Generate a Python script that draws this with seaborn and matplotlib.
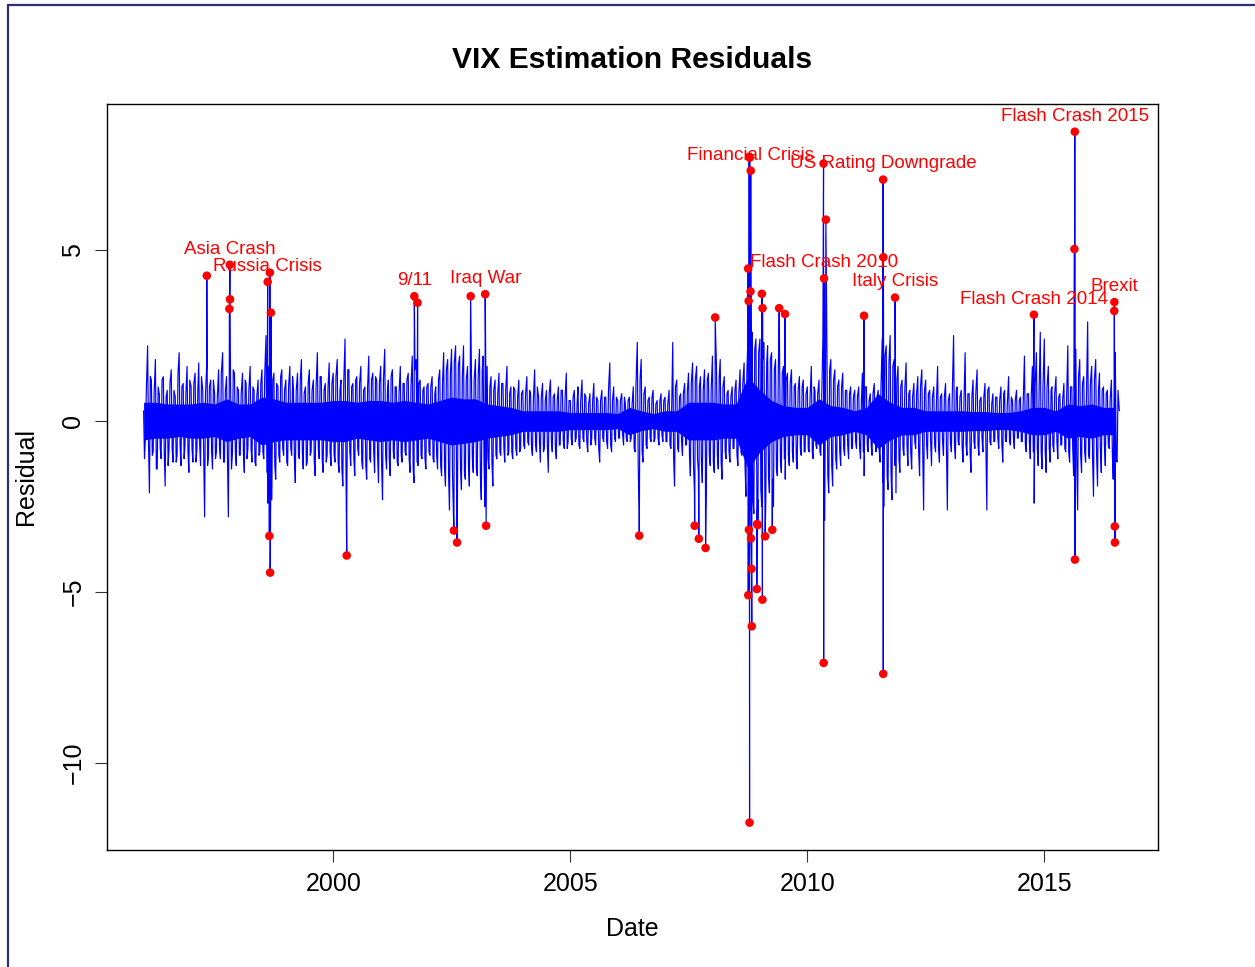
import numpy as np
import pandas as pd
import matplotlib
matplotlib.use("Agg")
import matplotlib.pyplot as plt
from matplotlib.lines import Line2D
import seaborn as sns

# ---------------- data ----------------
# residual spikes read on the 1st and 15th of each month, one row per year
noise_1996 = [0.3, -0.5, 2.2, -2.1, 1.2, -0.9, 1.8, -1.4, 0.8, -1.1, 1.3, -1.9, 0.9, -0.8, 1.5, -1.2, 0.7, -1.0, 2.0, -1.3, 1.1, -0.7, 1.6, -1.5]
noise_1997 = [1.0, -1.2, 1.4, -0.8, 1.7, -1.3, 0.9, -2.8, 1.6, -1.0, 1.2, -1.4, 0.8, -0.9, 1.5, -1.1, 2.0, -1.2, 1.3, -2.8, 1.1, -1.0, 1.4, -1.3]
noise_1998 = [0.9, -1.0, 1.4, -1.5, 1.1, -0.8, 1.6, -1.2, 0.9, -1.3, 1.2, -0.9, 1.5, -1.1, 2.5, -2.4, 2.0, -2.3, 1.4, -1.7, 1.0, -1.2, 1.5, -1.0]
noise_1999 = [1.2, -1.3, 1.6, -1.0, 0.9, -1.8, 1.4, -1.1, 1.8, -1.4, 1.0, -1.2, 1.5, -0.9, 1.2, -1.6, 2.0, -1.1, 1.3, -1.5, 1.1, -1.0, 1.7, -1.3]
noise_2000 = [1.4, -1.2, 1.8, -1.5, 1.2, -1.9, 2.4, -2.2, 1.5, -1.3, 1.1, -1.6, 1.3, -1.0, 1.6, -1.4, 1.0, -1.7, 1.9, -1.2, 1.4, -1.5, 1.2, -1.8]
noise_2001 = [1.6, -2.3, 2.1, -1.4, 1.2, -1.6, 1.5, -1.1, 1.0, -1.3, 1.6, -1.2, 1.1, -1.0, 1.4, -1.5, 1.9, -1.8, 1.8, -1.3, 1.2, -1.1, 1.0, -1.4]
noise_2002 = [1.1, -1.0, 1.3, -1.2, 1.0, -1.4, 1.5, -1.6, 2.0, -1.9, 1.8, -2.6, 2.1, -2.7, 2.2, -2.4, 1.9, -2.0, 2.2, -1.7, 1.6, -1.9, 1.4, -1.5]
noise_2003 = [1.8, -1.6, 2.1, -2.3, 1.9, -2.5, 1.6, -1.4, 1.3, -1.9, 1.2, -1.1, 1.4, -1.0, 1.1, -1.2, 1.6, -0.9, 1.0, -1.1, 0.9, -1.0, 1.2, -0.8]
noise_2004 = [0.9, -0.8, 1.3, -0.7, 0.8, -1.0, 1.5, -0.9, 0.7, -1.2, 1.1, -0.8, 0.9, -1.5, 1.2, -0.9, 0.8, -1.1, 1.0, -0.7, 0.9, -0.8, 1.4, -0.6]
noise_2005 = [0.6, -0.7, 0.9, -0.5, 1.0, -0.8, 1.2, -0.6, 0.7, -0.9, 0.8, -0.5, 1.1, -0.7, 0.6, -1.2, 0.9, -0.6, 0.7, -0.8, 1.7, -0.9, 1.0, -0.6]
noise_2006 = [0.6, -0.5, 0.8, -0.7, 0.5, -0.6, 0.7, -0.5, 1.0, -0.9, 2.3, -2.6, 1.8, -1.2, 1.0, -0.8, 0.7, -0.6, 0.9, -0.5, 0.6, -0.7, 0.8, -0.6]
noise_2007 = [0.7, -0.6, 0.9, -0.8, 2.3, -1.9, 1.2, -0.9, 0.8, -1.0, 1.1, -0.7, 1.4, -1.6, 1.7, -2.0, 1.6, -1.5, 1.3, -1.8, 1.5, -2.0, 1.4, -1.3]
noise_2008 = [1.9, -1.5, 1.6, -1.4, 1.8, -1.7, 1.3, -1.1, 0.9, -1.2, 1.0, -0.8, 1.2, -1.3, 1.5, -1.0, 1.7, -2.2, 2.5, -2.6, 2.6, -2.7, 2.4, -2.3]
noise_2009 = [2.4, -2.5, 2.3, -2.4, 2.2, -2.1, 2.0, -2.5, 1.8, -1.6, 2.1, -1.5, 1.6, -1.7, 1.4, -1.3, 1.5, -1.2, 1.1, -1.4, 1.3, -1.0, 1.2, -0.9]
noise_2010 = [1.0, -0.9, 1.6, -1.1, 0.9, -0.8, 1.2, -1.0, 2.4, -2.9, 2.2, -2.1, 1.8, -1.9, 1.5, -1.4, 1.2, -1.3, 1.4, -1.0, 0.9, -1.1, 1.0, -0.8]
noise_2011 = [0.9, -0.8, 1.0, -1.1, 1.4, -1.6, 1.0, -0.9, 0.8, -1.0, 1.1, -0.9, 0.9, -1.2, 2.4, -2.5, 2.2, -2.0, 2.5, -2.3, 1.8, -2.1, 1.6, -1.5]
noise_2012 = [1.2, -1.0, 1.7, -1.3, 0.9, -1.4, 1.1, -0.8, 1.3, -1.6, 1.5, -2.6, 1.2, -1.1, 0.9, -1.3, 1.0, -0.9, 1.6, -1.2, 0.8, -1.0, 1.1, -2.6]
noise_2013 = [0.8, -0.9, 2.5, -1.1, 1.0, -0.7, 0.9, -1.2, 2.0, -1.0, 0.8, -1.5, 1.2, -0.8, 1.5, -1.0, 0.7, -0.9, 1.1, -2.6, 1.0, -0.7, 0.8, -0.6]
noise_2014 = [0.7, -0.8, 1.0, -1.2, 0.9, -0.6, 1.3, -0.7, 0.6, -0.8, 0.9, -0.5, 0.7, -0.6, 1.9, -0.9, 0.8, -1.1, 1.6, -2.4, 2.0, -1.3, 2.6, -1.4]
noise_2015 = [2.4, -1.5, 1.6, -1.2, 1.0, -0.9, 1.3, -1.1, 0.8, -0.7, 1.1, -0.9, 2.2, -1.2, 1.0, -1.6, 2.1, -2.6, 1.8, -1.5, 1.3, -1.2, 2.9, -1.1]
noise_2016 = [1.6, -2.2, 1.8, -1.9, 1.4, -1.5, 1.0, -1.3, 0.9, -0.8, 1.2, -1.7, 2.0, -1.2, 0.3]

# in-between readings on the 8th and 22nd of each month, one row per year
mid_1996 = [-1.1, 0.9, -0.7, 1.3, -1.0, 0.8, -1.4, 1.0, -0.8, 1.2, -0.9, 0.7, -1.3, 1.1, -0.8, 0.9, -1.2, 1.4, -0.7, 1.0, -1.1, 0.8, -0.9, 1.2]
mid_1997 = [-0.8, 1.1, -1.2, 0.9, -0.7, 1.3, -1.0, 0.8, -1.3, 1.0, -0.9, 1.2, -1.1, 0.7, -0.8, 1.4, -1.2, 0.9, -1.0, 1.1, -1.4, 1.5, -0.9, 1.0]
mid_1998 = [-1.0, 0.8, -0.9, 1.2, -1.1, 0.9, -0.8, 1.0, -1.2, 0.7, -1.0, 1.1, -0.9, 1.3, -1.5, 1.6, -1.4, 1.2, -1.3, 1.1, -1.0, 1.3, -0.8, 0.9]
mid_1999 = [-1.2, 1.0, -0.8, 1.3, -1.1, 0.9, -1.0, 1.2, -0.9, 0.8, -1.3, 1.1, -1.0, 0.9, -1.2, 1.0, -0.8, 1.3, -1.1, 0.9, -1.2, 1.0, -0.9, 1.1]
mid_2000 = [-1.0, 1.3, -1.2, 0.9, -1.4, 1.1, -1.3, 1.5, -0.9, 1.0, -1.1, 1.2, -0.8, 1.1, -1.2, 0.9, -1.3, 1.0, -1.1, 1.2, -0.9, 1.3, -1.0, 1.1]
mid_2001 = [-1.3, 1.2, -1.0, 0.9, -1.1, 1.3, -0.9, 1.0, -1.2, 0.8, -1.0, 1.1, -0.9, 1.2, -1.1, 1.0, -1.4, 1.5, -1.2, 1.1, -1.0, 0.9, -1.1, 1.0]
mid_2002 = [-0.9, 1.0, -1.1, 0.8, -1.0, 1.2, -1.3, 1.1, -1.4, 1.5, -1.6, 1.4, -1.5, 1.7, -1.3, 1.6, -1.4, 1.3, -1.5, 1.2, -1.3, 1.4, -1.1, 1.2]
mid_2003 = [-1.4, 1.3, -1.6, 1.5, -1.2, 1.4, -1.1, 1.0, -1.2, 0.9, -1.0, 0.8, -0.9, 1.1, -0.8, 0.9, -1.0, 0.8, -0.9, 1.0, -0.8, 0.7, -0.9, 0.8]
mid_2004 = [-0.7, 0.8, -0.6, 0.9, -0.8, 0.6, -0.7, 1.0, -0.6, 0.7, -0.9, 0.6, -0.7, 0.8, -0.6, 0.7, -0.8, 0.6, -0.7, 0.9, -0.6, 0.7, -0.8, 0.6]
mid_2005 = [-0.5, 0.7, -0.6, 0.5, -0.7, 0.6, -0.5, 0.8, -0.6, 0.5, -0.7, 0.6, -0.5, 0.7, -0.8, 0.6, -0.5, 0.7, -0.6, 0.9, -0.7, 0.6, -0.5, 0.7]
mid_2006 = [-0.5, 0.6, -0.4, 0.7, -0.5, 0.6, -0.6, 0.5, -0.8, 1.1, -1.3, 1.2, -0.9, 0.8, -0.7, 0.6, -0.5, 0.7, -0.6, 0.5, -0.5, 0.6, -0.4, 0.6]
mid_2007 = [-0.6, 0.5, -0.7, 0.6, -1.1, 1.0, -0.8, 0.7, -0.6, 0.8, -0.7, 0.9, -1.0, 1.1, -1.3, 1.2, -1.1, 1.0, -1.2, 0.9, -1.1, 1.2, -1.0, 0.9]
mid_2008 = [-1.2, 1.1, -1.0, 1.3, -1.2, 1.0, -0.9, 0.8, -0.9, 0.7, -0.8, 0.9, -1.0, 0.8, -0.9, 1.1, -1.3, 1.4, -2.0, 2.2, -2.3, 2.1, -1.9, 2.0]
mid_2009 = [-2.0, 1.8, -1.9, 1.7, -1.6, 1.8, -1.7, 1.5, -1.4, 1.3, -1.2, 1.4, -1.1, 1.2, -1.0, 1.1, -0.9, 1.0, -1.1, 0.9, -0.8, 1.0, -0.9, 0.8]
mid_2010 = [-0.8, 0.7, -0.9, 1.0, -0.7, 0.8, -0.9, 0.7, -1.8, 1.9, -1.6, 1.5, -1.3, 1.2, -1.1, 1.0, -0.9, 1.0, -0.8, 0.9, -0.7, 0.8, -0.8, 0.7]
mid_2011 = [-0.6, 0.7, -0.8, 0.6, -0.9, 1.0, -0.7, 0.6, -0.7, 0.8, -0.6, 0.7, -0.8, 0.9, -1.8, 1.9, -1.6, 1.7, -1.5, 1.6, -1.3, 1.2, -1.1, 1.0]
mid_2012 = [-0.8, 0.9, -0.7, 0.8, -0.9, 0.7, -0.6, 0.8, -0.9, 1.0, -0.8, 0.9, -0.7, 0.8, -0.6, 0.7, -0.7, 0.6, -0.8, 0.7, -0.6, 0.7, -0.8, 0.6]
mid_2013 = [-0.6, 0.8, -0.7, 0.9, -0.6, 0.7, -0.8, 0.6, -0.7, 0.8, -0.9, 0.7, -0.6, 0.8, -0.7, 0.6, -0.5, 0.7, -0.8, 0.9, -0.6, 0.5, -0.6, 0.7]
mid_2014 = [-0.5, 0.6, -0.7, 0.8, -0.6, 0.5, -0.6, 0.7, -0.5, 0.6, -0.5, 0.6, -0.6, 0.5, -0.7, 0.8, -0.6, 0.7, -0.9, 1.0, -0.8, 0.9, -0.9, 1.0]
mid_2015 = [-0.9, 1.0, -0.8, 0.9, -0.7, 0.8, -0.6, 0.7, -0.7, 0.6, -0.8, 0.7, -0.9, 1.0, -0.8, 0.9, -1.2, 1.3, -1.0, 1.1, -0.9, 0.8, -1.0, 1.1]
mid_2016 = [-1.1, 1.2, -1.0, 0.9, -0.8, 0.9, -0.7, 0.8, -0.7, 0.6, -0.9, 1.0, -1.1, 0.9]

# quarterly range of the dense (solid) core of the daily residuals
core_upper = [0.55, 0.55, 0.5, 0.5,   0.5, 0.55, 0.5, 0.65,   0.5, 0.5, 0.7, 0.65,
              0.55, 0.55, 0.55, 0.55, 0.6, 0.6, 0.55, 0.6,    0.6, 0.55, 0.6, 0.55,
              0.5, 0.6, 0.7, 0.65,    0.65, 0.5, 0.45, 0.4,   0.3, 0.3, 0.3, 0.3,
              0.25, 0.25, 0.25, 0.25, 0.22, 0.4, 0.3, 0.22,   0.3, 0.3, 0.55, 0.55,
              0.55, 0.5, 0.5, 1.3,    0.9, 0.6, 0.45, 0.4,    0.4, 0.65, 0.45, 0.4,
              0.3, 0.4, 0.8, 0.55,    0.4, 0.4, 0.3, 0.3,     0.3, 0.3, 0.28, 0.28,
              0.25, 0.25, 0.3, 0.4,   0.4, 0.3, 0.5, 0.45,    0.5, 0.4, 0.4]
core_lower = [-0.55, -0.5, -0.5, -0.45, -0.5, -0.5, -0.45, -0.6, -0.5, -0.45, -0.7, -0.6,
              -0.55, -0.55, -0.55, -0.55, -0.6, -0.6, -0.5, -0.55, -0.6, -0.55, -0.6, -0.55,
              -0.5, -0.6, -0.7, -0.65, -0.6, -0.5, -0.45, -0.4, -0.3, -0.3, -0.3, -0.3,
              -0.25, -0.25, -0.25, -0.25, -0.22, -0.4, -0.28, -0.22, -0.3, -0.3, -0.55, -0.55,
              -0.55, -0.5, -0.5, -1.4, -0.9, -0.6, -0.45, -0.4, -0.4, -0.7, -0.45, -0.4,
              -0.3, -0.4, -0.8, -0.55, -0.4, -0.4, -0.3, -0.3, -0.3, -0.3, -0.28, -0.28,
              -0.25, -0.25, -0.3, -0.4, -0.4, -0.3, -0.5, -0.45, -0.5, -0.4, -0.4]

# large residuals (red points)
outlier_dates = [
    "1997-05-02", "1997-10-23", "1997-10-27", "1997-10-28",
    "1998-08-14", "1998-08-27", "1998-08-31", "1998-09-02", "1998-09-08",
    "2000-04-14",
    "2001-09-17", "2001-10-12",
    "2002-07-19", "2002-08-12", "2002-11-25", "2003-03-17", "2003-03-24",
    "2006-06-16",
    "2007-08-17", "2007-09-18", "2007-11-09", "2008-01-22",
    "2008-10-02", "2008-10-03", "2008-10-06", "2008-10-08", "2008-10-10",
    "2008-10-13", "2008-10-14", "2008-10-20", "2008-10-22", "2008-10-24",
    "2008-10-28", "2008-10-30",
    "2008-12-08", "2008-12-10", "2008-12-16",
    "2009-01-16", "2009-01-20", "2009-01-21", "2009-02-10", "2009-04-06",
    "2009-05-29", "2009-07-13",
    "2010-05-06", "2010-05-07", "2010-05-10", "2010-05-24",
    "2011-03-14", "2011-08-08", "2011-08-09", "2011-08-10", "2011-11-08",
    "2014-10-13",
    "2015-08-21", "2015-08-24", "2015-08-25",
    "2016-06-23", "2016-06-24", "2016-06-27", "2016-06-28",
]
outlier_values = [
    4.25, 3.28, 4.57, 3.56,
    4.07, -3.36, 4.34, -4.43, 3.17,
    -3.93,
    3.65, 3.46,
    -3.20, -3.55, 3.65, 3.71, -3.06,
    -3.35,
    -3.06, -3.44, -3.71, 3.03,
    4.46, -5.09, 3.51, -3.18, 7.73,
    -11.74, 7.70, 3.79, 7.32, -3.43,
    -4.32, -6.00,
    -4.91, -3.01, -3.04,
    3.72, -5.22, 3.30, -3.37, -3.18,
    3.30, 3.13,
    7.53, -7.07, 4.17, 5.89,
    3.08, 7.06, -7.39, 4.79, 3.61,
    3.11,
    5.03, 8.46, -4.05,
    3.22, 3.48, -3.08, -3.55,
]

event_names = ["Asia Crash", "Russia Crisis", "9/11", "Iraq War", "Financial Crisis",
               "Flash Crash 2010", "US Rating Downgrade", "Italy Crisis",
               "Flash Crash 2014", "Flash Crash 2015", "Brexit"]
event_dates = ["1997-10-27", "1998-08-14", "2001-09-17", "2003-03-17", "2008-10-22",
               "2010-05-10", "2011-08-08", "2011-11-08",
               "2014-10-13", "2015-08-24", "2016-06-24"]

x_tick_years = [2000, 2005, 2010, 2015]
y_ticks = [-10, -5, 0, 5]

# ---------------- assemble ----------------
noise_values = (noise_1996 + noise_1997 + noise_1998 + noise_1999 + noise_2000 +
                noise_2001 + noise_2002 + noise_2003 + noise_2004 + noise_2005 +
                noise_2006 + noise_2007 + noise_2008 + noise_2009 + noise_2010 +
                noise_2011 + noise_2012 + noise_2013 + noise_2014 + noise_2015 +
                noise_2016)
noise_dates = pd.date_range("1996-01-01", "2016-08-01", freq="SMS")
assert len(noise_dates) == len(noise_values)

mid_values = (mid_1996 + mid_1997 + mid_1998 + mid_1999 + mid_2000 + mid_2001 +
              mid_2002 + mid_2003 + mid_2004 + mid_2005 + mid_2006 + mid_2007 +
              mid_2008 + mid_2009 + mid_2010 + mid_2011 + mid_2012 + mid_2013 +
              mid_2014 + mid_2015 + mid_2016)
mid_dates = pd.date_range("1996-01-01", "2016-07-15", freq="SMS") + pd.Timedelta(days=7)
assert len(mid_dates) == len(mid_values)

core_dates = pd.date_range("1996-01-01", "2016-07-01", freq="QS")
assert len(core_dates) == len(core_upper) == len(core_lower)

out_df = pd.DataFrame({"Date": pd.to_datetime(outlier_dates), "Residual": outlier_values})
series = pd.concat([
    pd.DataFrame({"Date": noise_dates, "Residual": noise_values}),
    pd.DataFrame({"Date": mid_dates, "Residual": mid_values}),
    out_df,
]).sort_values("Date", kind="mergesort").reset_index(drop=True)

lookup = dict(zip(out_df["Date"], out_df["Residual"]))

# ---------------- plot ----------------
sns.set_style("ticks")
plt.rcParams["font.family"] = ["Liberation Sans", "DejaVu Sans"]
plt.rcParams["text.color"] = "black"
plt.rcParams["axes.labelcolor"] = "black"
plt.rcParams["xtick.color"] = "black"
plt.rcParams["ytick.color"] = "black"

W, H = 1255, 967
fig = plt.figure(figsize=(W / 100, H / 100), dpi=100)
ax = fig.add_axes([107 / W, 1 - 850 / H, (1158 - 107) / W, (850 - 104) / H])

BLUE = "#0000FF"
ax.fill_between(core_dates, core_lower, core_upper, color=BLUE, linewidth=0, zorder=1.5)
sns.lineplot(data=series, x="Date", y="Residual", color=BLUE, linewidth=0.85,
             estimator=None, sort=False, ax=ax, zorder=2)
sns.scatterplot(data=out_df, x="Date", y="Residual", color="#FF0000", s=38,
                edgecolor="none", linewidth=0, zorder=3, ax=ax)

for name, d in zip(event_names, event_dates):
    t = pd.Timestamp(d)
    ax.annotate(name, (t, lookup[t]), xytext=(0, 11.3), textcoords="offset points",
                ha="center", va="center", color="#FF0000", fontsize=13.5, zorder=4)

ax.set_xlim(pd.Timestamp("1995-03-25"), pd.Timestamp("2017-05-26"))
ax.set_ylim(-12.54, 9.27)
ax.set_xticks([pd.Timestamp(f"{y}-01-01") for y in x_tick_years])
ax.set_xticklabels([str(y) for y in x_tick_years])
ax.set_yticks(y_ticks)
ax.set_yticklabels([str(v).replace("-", "\u2212") for v in y_ticks])

for s in ax.spines.values():
    s.set_visible(True)
    s.set_color("black")
    s.set_linewidth(1.0)
ax.tick_params(direction="out", length=8.6, width=0.8, color="#333333",
               labelcolor="black", labelsize=18, pad=7)
ax.tick_params(axis="y", labelrotation=90)
for lab in ax.get_yticklabels():
    lab.set_va("center")

ax.set_xlabel("Date", fontsize=18, color="black")
ax.xaxis.set_label_coords(0.5, -0.0898)
ax.set_ylabel("Residual", fontsize=18, color="black")
ax.yaxis.set_label_coords(-0.066, 0.5)

fig.text(632.5 / W, 1 - 60 / H, "VIX Estimation Residuals", ha="center", va="center",
         fontsize=21.6, fontweight="bold", color="black")

# outer frame (left and top edges visible in the reference)
frame_col = "#2e2e74"
fig.add_artist(Line2D([8 / W, 8 / W], [0, 1 - 5 / H], transform=fig.transFigure,
                      color=frame_col, lw=1.6))
fig.add_artist(Line2D([8 / W, 1], [1 - 5 / H, 1 - 5 / H], transform=fig.transFigure,
                      color=frame_col, lw=1.6))

fig.savefig("out.png", dpi=100)
